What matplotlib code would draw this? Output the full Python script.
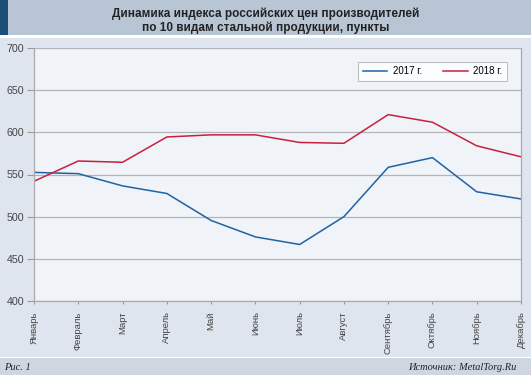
import matplotlib
matplotlib.use("Agg")
import matplotlib.pyplot as plt
from matplotlib.patches import Rectangle

months = ["Январь", "Февраль", "Март", "Апрель", "Май", "Июнь", "Июль",
          "Август", "Сентябрь", "Октябрь", "Ноябрь", "Декабрь"]
idx_2017 = [552.5, 551, 536.5, 527.5, 495.5, 476, 467, 500, 558.5, 570, 529.5, 521]
idx_2018 = [542, 566, 564.5, 594.5, 597, 597, 588, 587, 621, 612, 584, 571]
y_ticks = [400, 450, 500, 550, 600, 650, 700]

plt.rcParams['font.family'] = ['Liberation Sans', 'DejaVu Sans']

fig = plt.figure(figsize=(5.31, 3.75), dpi=100)
fig.patch.set_facecolor("white")

# background bands
fig.add_artist(Rectangle((0, 1 - 35/375), 1, 35/375, transform=fig.transFigure,
                         facecolor="#b8c5d5", edgecolor="none", zorder=0))
fig.add_artist(Rectangle((0, 1 - 35/375), 8/531, 35/375, transform=fig.transFigure,
                         facecolor="#1b4f78", edgecolor="none", zorder=0))
fig.add_artist(Rectangle((0, 18/375), 1, (337 - 18)/375, transform=fig.transFigure,
                         facecolor="#dfe5ee", edgecolor="none", zorder=0))
fig.add_artist(Rectangle((0, 0), 1, 17/375, transform=fig.transFigure,
                         facecolor="#cdd6e1", edgecolor="none", zorder=0))

fig.text(0.5, 1 - 13.5/375, "Динамика индекса российских цен производителей",
         ha="center", va="center", fontsize=8.5, fontweight="bold", color="#222222")
fig.text(0.5, 1 - 27.5/375, "по 10 видам стальной продукции, пункты",
         ha="center", va="center", fontsize=8.5, fontweight="bold", color="#222222")

fig.text(4/531, 8/375, "Рис. 1", ha="left", va="center", fontsize=7.5,
         style="italic", family="Liberation Serif", color="#222222")
fig.text(1 - 14/531, 8/375, "Источник: MetalTorg.Ru", ha="right", va="center",
         fontsize=7.5, style="italic", family="Liberation Serif", color="#222222")

ax = fig.add_axes([34/531, 74/375, (521 - 34)/531, (301 - 48)/375])
ax.set_facecolor("#f0f3f8")
x = list(range(len(months)))
ax.plot(x, idx_2017, color="#1f63a3", lw=1.1, label="2017 г.")
ax.plot(x, idx_2018, color="#c8203f", lw=1.1, label="2018 г.")

ax.set_xlim(0, len(months) - 1)
ax.set_ylim(400, 700)
ax.set_yticks(y_ticks)
ax.set_xticks(x)
ax.set_xticklabels(months, rotation=90, va="top")
ax.tick_params(axis="y", labelsize=7.7, colors="#999999", labelcolor="#444444",
               length=5, width=0.8, pad=2)
ax.tick_params(axis="x", labelsize=6.8, colors="#999999", labelcolor="#444444",
               length=2.5, width=0.8, pad=5)
ax.yaxis.grid(True, color="#b2b4b8", lw=0.9)
ax.set_axisbelow(True)
for side in ["left", "bottom", "right"]:
    ax.spines[side].set_color("#a8aab0")
    ax.spines[side].set_linewidth(0.9)
ax.spines["top"].set_visible(False)

leg = ax.legend(loc="upper right", bbox_to_anchor=(0.971, 0.945), ncol=2,
                fontsize=7, frameon=True, fancybox=False, handlelength=2.5,
                handletextpad=0.6, columnspacing=2.2, borderpad=0.45,
                borderaxespad=0)
leg.get_frame().set_edgecolor("#b0b0b0")
leg.get_frame().set_linewidth(0.8)

fig.savefig("out.png", dpi=100)
